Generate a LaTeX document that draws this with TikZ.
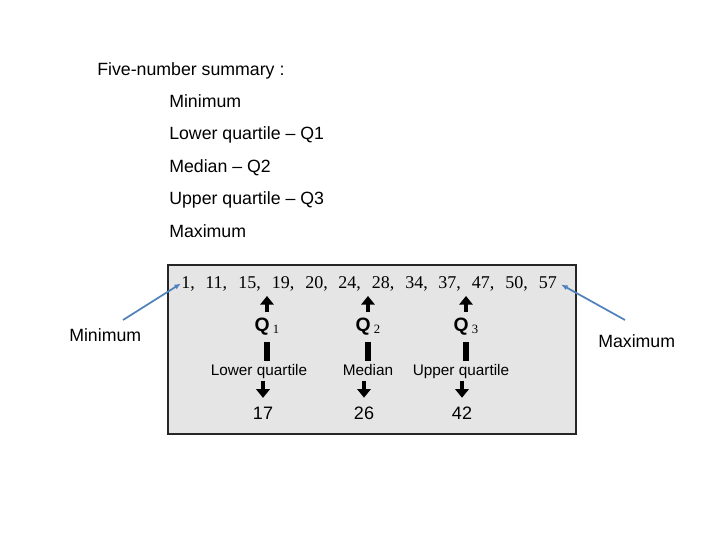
\documentclass[tikz,border=0pt]{standalone}
\usepackage{fontspec}
\setmainfont{Liberation Sans}
\newfontfamily\numfont{Liberation Serif}
\usepackage{xcolor}
\usetikzlibrary{arrows.meta}
\definecolor{ptrblue}{RGB}{79,129,189}
\tikzset{
	txt/.style={font=\fontsize{13.3}{16}\selectfont, inner sep=0pt, anchor=west,
		text height=9.5pt, text depth=0pt},
	num/.style={font=\numfont\fontsize{13.5}{16}\selectfont, inner sep=0pt, anchor=base west},
	qlbl/.style={font=\fontsize{14.5}{17}\selectfont\bfseries, inner sep=0pt},
	qname/.style={font=\fontsize{11.5}{14}\selectfont, inner sep=0pt,
		text height=8.5pt, text depth=2.5pt},
	qval/.style={font=\fontsize{13.5}{16}\selectfont, inner sep=0pt},
	fat/.style={line width=3.3pt, -{Triangle[width=10pt,length=6.5pt]}},
	bar/.style={line width=4pt},
	ptr/.style={draw=ptrblue, line width=1.3pt, -{Latex[length=5pt,width=4pt]}},
	panel/.style={draw=black!85, line width=0.8pt, fill=black!10},
}
\newcommand{\qsub}[1]{\,\raisebox{-1.5pt}{\numfont\mdseries\fontsize{9.5}{11}\selectfont #1}}

\begin{document}
\begin{tikzpicture}[x=0.75pt, y=-0.75pt]
	\useasboundingbox (0,0) rectangle (720,540);
	% the five-number summary list
	\node[txt] (head) at (97,69) {Five-number summary :};
	\node[txt] (l1) at (169,101) {Minimum};
	\node[txt] (l2) at (169,133) {Lower quartile -- Q1};
	\node[txt] (l3) at (169,166) {Median -- Q2};
	\node[txt] (l4) at (169,198) {Upper quartile -- Q3};
	\node[txt] (l5) at (169,231) {Maximum};
	% grey panel with the ordered data
	\draw[panel] (168,265) rectangle (576,434);
	\foreach \x/\v [count=\i] in {181/{1,}, 205/{11,}, 238/{15,}, 271.5/{19,}, 305/{20,}, 338/{24,}, 371.5/{28,}, 405/{34,}, 438/{37,}, 471.5/{47,}, 505/{50,}, 538.5/57}
		\node[num] (n\i) at (\x,288) {\v};
	% quartile columns
	\node[qlbl] (q1) at (267,327) {Q\qsub{1}};
	\node[qlbl] (q2) at (368,327) {Q\qsub{2}};
	\node[qlbl] (q3) at (466,327) {Q\qsub{3}};
	\node[qname] (lq) at (259,371) {Lower quartile};
	\node[qname] (md) at (368,371) {Median};
	\node[qname] (uq) at (461,371) {Upper quartile};
	\node[qval] (v1) at (263,413) {17};
	\node[qval] (v2) at (364,413) {26};
	\node[qval] (v3) at (462,413) {42};
	\coordinate (t1) at (267,296);
	\coordinate (t2) at (368,296);
	\coordinate (t3) at (466,296);
	\draw[fat] ([yshift=4.5pt]q1.north) -- (t1);
	\draw[fat] ([yshift=4.5pt]q2.north) -- (t2);
	\draw[fat] ([yshift=4.5pt]q3.north) -- (t3);
	\draw[bar] ([yshift=-4.5pt]q1.south) -- ([yshift=2pt]lq.north -| q1);
	\draw[bar] ([yshift=-4.5pt]q2.south) -- ([yshift=2pt]md.north -| q2);
	\draw[bar] ([yshift=-4.5pt]q3.south) -- ([yshift=2pt]uq.north -| q3);
	\draw[fat] ([yshift=-1.5pt]lq.south -| v1) -- ([yshift=6.5pt]v1.north);
	\draw[fat] ([yshift=-1.5pt]md.south -| v2) -- ([yshift=6.5pt]v2.north);
	\draw[fat] ([yshift=-1.5pt]uq.south -| v3) -- ([yshift=6.5pt]v3.north);
	% pointers to the extremes
	\node[txt] (minout) at (69,335) {Minimum};
	\node[txt] (maxout) at (598,341) {Maximum};
	\coordinate (minfoot) at (123,320);
	\coordinate (maxfoot) at (625,320);
	\draw[ptr] (minfoot) -- (n1.west);
	\draw[ptr] (maxfoot) -- ([xshift=3pt,yshift=3pt]n12.south east);
\end{tikzpicture}
\end{document}
